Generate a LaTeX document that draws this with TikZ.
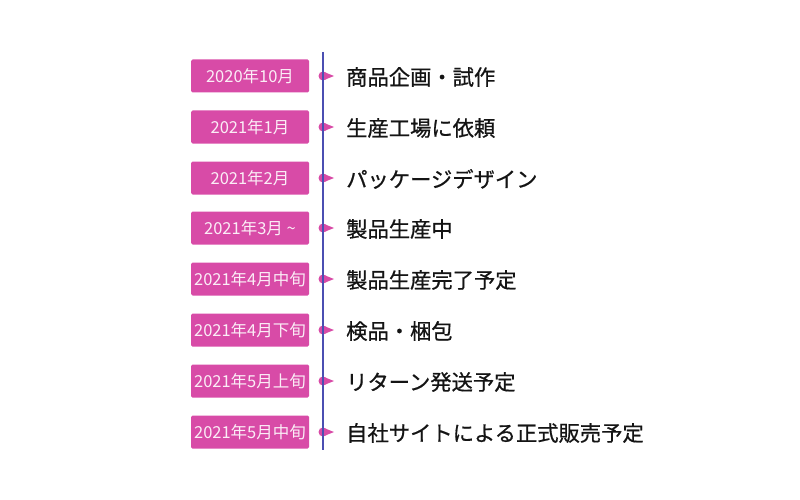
\documentclass[tikz,border=0pt]{standalone}
\usepackage{fontspec}
\setmainfont{Noto Sans CJK JP}
\newfontfamily\eventfont[FakeBold=0.7]{Noto Sans CJK JP}
\definecolor{boxpink}{HTML}{D84BA7}
\definecolor{lineblue}{HTML}{4B4FB2}

\begin{document}
\begin{tikzpicture}[x=1pt, y=-1pt,
		datebox/.style = {fill=boxpink, text=white!90!boxpink, rounded corners=1.5pt, minimum width=118pt, minimum height=33pt, inner sep=0pt, font=\fontsize{16.5}{17}\selectfont},
		event/.style = {anchor=west, inner sep=0pt, text=black!92, font=\eventfont\fontsize{21.3}{23}\selectfont},
		dotmark/.style = {circle, fill=boxpink, minimum size=9pt, inner sep=0pt}
	]
		\useasboundingbox (0,0) rectangle (800,500);
		% date boxes
		\node[datebox] (d1) at (250,76) {2020年10月};
		\node[datebox] (d2) at (250,127) {2021年1月};
		\node[datebox] (d3) at (250,178) {2021年2月};
		\node[datebox] (d4) at (250,228) {2021年3月 \textasciitilde};
		\node[datebox] (d5) at (250,279) {2021年4月中旬};
		\node[datebox] (d6) at (250,330) {2021年4月下旬};
		\node[datebox] (d7) at (250,381) {2021年5月上旬};
		\node[datebox] (d8) at (250,432) {2021年5月中旬};
		% events
		\node[event] (e1) at (346,77) {商品企画・試作};
		\node[event] (e2) at (346,128) {生産工場に依頼};
		\node[event] (e3) at (346,179) {パッケージデザイン};
		\node[event] (e4) at (346,229) {製品生産中};
		\node[event] (e5) at (346,280) {製品生産完了予定};
		\node[event] (e6) at (346,331) {検品・梱包};
		\node[event] (e7) at (346,382) {リターン発送予定};
		\node[event] (e8) at (346,433) {自社サイトによる正式販売予定};
		% markers
		\node[dotmark] (m1) at (323,76) {};
		\node[dotmark] (m2) at (323,127) {};
		\node[dotmark] (m3) at (323,178) {};
		\node[dotmark] (m4) at (323,228) {};
		\node[dotmark] (m5) at (323,279) {};
		\node[dotmark] (m6) at (323,330) {};
		\node[dotmark] (m7) at (323,381) {};
		\node[dotmark] (m8) at (323,432) {};
		\foreach \m in {m1,m2,m3,m4,m5,m6,m7,m8}
			\fill[boxpink] (\m) ++(1,-4) -- ++(10,4) -- ++(-10,4) -- cycle;
		% time line
		\coordinate (top) at (323,52);
		\coordinate (bot) at (323,450);
		\draw[lineblue, line width=1.6pt] (top) -- (bot);
	\end{tikzpicture}
\end{document}
